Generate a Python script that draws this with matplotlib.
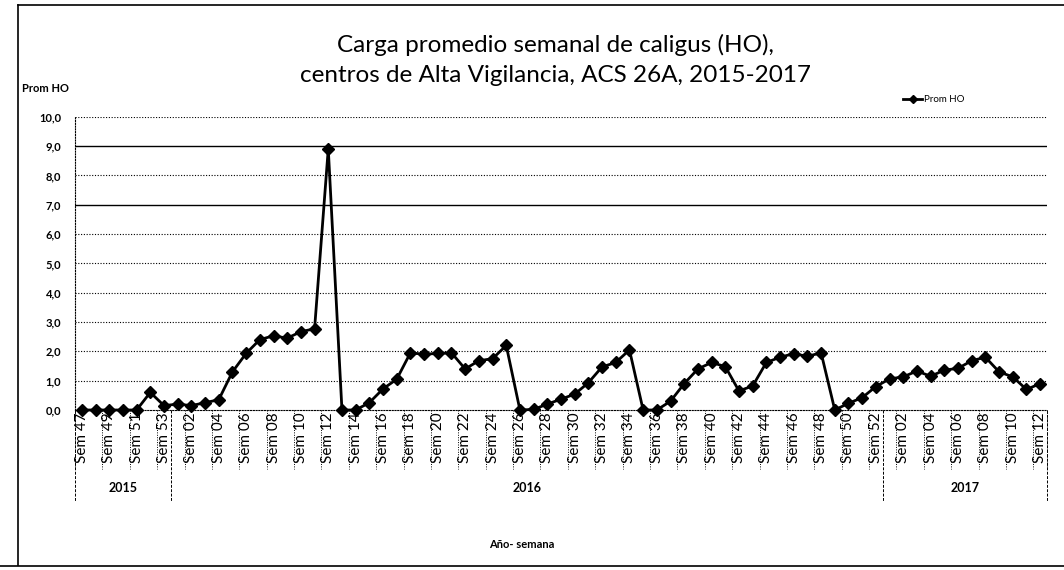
import matplotlib
matplotlib.use("Agg")
import matplotlib.pyplot as plt
from matplotlib.lines import Line2D

plt.rcParams['font.family'] = ['Lato', 'DejaVu Sans']

# data
years = ['2015', '2016', '2017']
weeks_2015 = list(range(47, 54))
weeks_2016 = list(range(1, 53))
weeks_2017 = list(range(1, 13))
prom_2015 = [0.0, 0.0, 0.0, 0.0, 0.0, 0.6, 0.15]
prom_2016 = [0.2, 0.15, 0.25, 0.35, 1.3, 1.93, 2.4, 2.53, 2.45, 2.67,
             2.77, 8.9, 0.0, 0.0, 0.25, 0.72, 1.05, 1.95, 1.9, 1.93,
             1.95, 1.4, 1.68, 1.75, 2.2, 0.0, 0.02, 0.2, 0.37, 0.54,
             0.93, 1.47, 1.62, 2.05, 0.0, 0.0, 0.3, 0.9, 1.4, 1.62,
             1.48, 0.65, 0.82, 1.62, 1.8, 1.92, 1.83, 1.95, 0.0, 0.23,
             0.42, 0.8]
prom_2017 = [1.06, 1.13, 1.33, 1.15, 1.36, 1.42, 1.68, 1.8, 1.3, 1.13,
             0.7, 0.9]

weeks = weeks_2015 + weeks_2016 + weeks_2017
prom_ho = prom_2015 + prom_2016 + prom_2017
x = list(range(len(prom_ho)))
n = len(x)

W, H = 1064, 570
fig = plt.figure(figsize=(W / 100, H / 100), dpi=100)
ax = fig.add_axes([75 / W, 1 - 410 / H, (1047 - 75) / W, (410 - 116.7) / H])

# gridlines
for v in range(1, 11):
    if v in (7, 9):
        ax.axhline(v, color='black', lw=1.0, zorder=1)
    else:
        ax.axhline(v, color='black', lw=0.8, ls=(0, (1, 1.5)), zorder=1)

line, = ax.plot(x, prom_ho, color='black', lw=2, marker='D', ms=6.5,
                clip_on=False, zorder=5)

ax.set_xlim(-0.5, n - 0.5)
ax.set_ylim(0, 10)
ax.set_yticks(range(11))
ax.set_yticklabels([f"{v:.1f}".replace('.', ',') for v in range(11)],
                   fontsize=8, fontweight='bold')
ax.tick_params(axis='y', length=0, pad=10)
ax.set_xticks([])
for s in ('top', 'right'):
    ax.spines[s].set_visible(False)
for s in ('left', 'bottom'):
    ax.spines[s].set_linestyle((0, (1, 1.5)))
    ax.spines[s].set_linewidth(0.8)

# category axis: week labels and boxes
trans = ax.get_xaxis_transform()
for i in range(0, n, 2):
    ax.text(i, -0.008, f"Sem {weeks[i]:02d}", transform=trans, rotation=90,
            ha='center', va='top', fontsize=11)
sep = list(range(-1, n, 2)) + [n - 1]
for s in sep:
    ax.plot([s + 0.5, s + 0.5], [0, -0.2], transform=trans, color='black',
            lw=0.7, ls=(0, (1, 1.5)), clip_on=False)

# year level
lens = [len(weeks_2015), len(weeks_2016), len(weeks_2017)]
start = 0
bounds = [-0.5]
for yr, L in zip(years, lens):
    ax.text(start + (L - 1) / 2, -0.265, yr, transform=trans, ha='center',
            va='center', fontsize=9, fontweight='bold')
    start += L
    bounds.append(start - 0.5)
for b in bounds:
    ax.plot([b, b], [0, -0.31], transform=trans, color='black', lw=0.7,
            ls=(0, (3, 1.5)), clip_on=False)

# legend
fig.legend(handles=[line], labels=['Prom HO'], loc='center left',
           bbox_to_anchor=(903 / W, 1 - 100 / H), frameon=False,
           prop={'size': 7}, handlelength=2, handletextpad=0.2,
           borderpad=0, borderaxespad=0, markerscale=0.6)

# texts
fig.text(555 / W, 1 - 45 / H, 'Carga promedio semanal de caligus (HO),',
         ha='center', va='center', fontsize=17.5)
fig.text(555 / W, 1 - 75 / H, 'centros de Alta Vigilancia, ACS 26A, 2015-2017',
         ha='center', va='center', fontsize=17.5)
fig.text(22 / W, 1 - 88 / H, 'Prom HO', ha='left', va='center',
         fontsize=8, fontweight='bold')
fig.text(522 / W, 1 - 545 / H, 'Año- semana', ha='center', va='center',
         fontsize=8, fontweight='bold')

# outer border
for xs, ys in [([18 / W, 18 / W], [5 / H, 1 - 5 / H]),
               ([18 / W, 1.0], [1 - 5 / H, 1 - 5 / H]),
               ([0, 1.0], [4 / H, 4 / H])]:
    fig.add_artist(Line2D(xs, ys, color='black', lw=1.2))

fig.savefig('out.png', dpi=100)
